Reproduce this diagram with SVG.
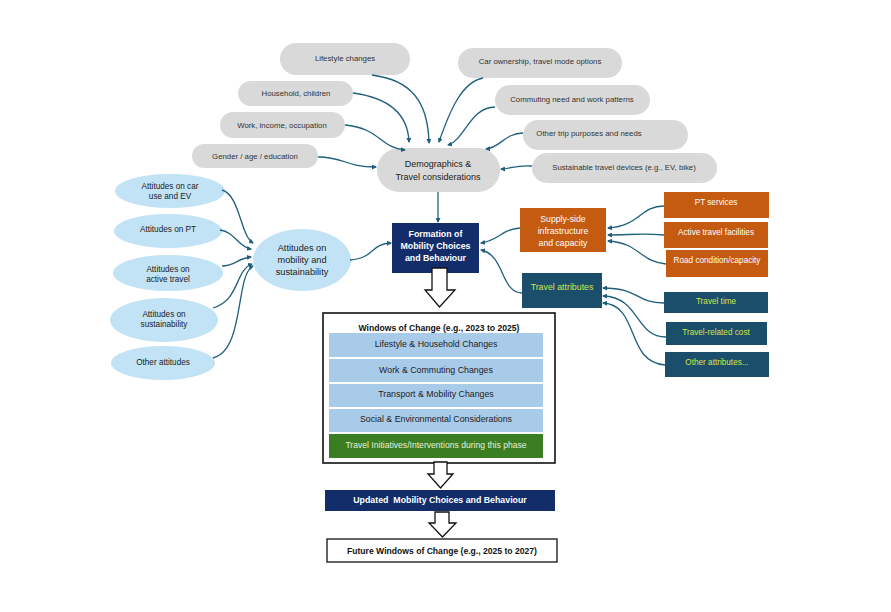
<svg xmlns="http://www.w3.org/2000/svg" width="891" height="612" viewBox="0 0 891 612">
<defs>
<style>
text{font-family:"Liberation Sans",Arial,sans-serif;text-anchor:middle;dominant-baseline:central;white-space:pre}
.pill{fill:#d9d9d9}
.pt{font-size:7.8px;fill:#333}
.ell{fill:#c1e3f5}
.et{font-size:8.2px;fill:#222}
.navy{fill:#122d6a}
.wb{font-size:8.8px;fill:#fff;font-weight:bold}
.org{fill:#c55a11}
.ot{font-size:8.2px;fill:#fff}
.teal{fill:#1b4e6b}
.tt{font-size:8.2px;fill:#d4e64a}
.bar{fill:#a9cbea}
.bt{font-size:8.8px;fill:#222}
.con path{fill:none;stroke:#1e5f7e;stroke-width:1.3;marker-end:url(#ah)}
.big{fill:#fff;stroke:#111;stroke-width:1.3}
</style>
<marker id="ah" viewBox="0 0 10 10" refX="8" refY="5" markerWidth="5" markerHeight="5" orient="auto" markerUnits="userSpaceOnUse">
<path d="M0,0 L10,5 L0,10 z" fill="#1e5f7e"/>
</marker>
</defs>
<rect width="891" height="612" fill="#fff"/>

<g id="lifestyle"><rect class="pill" x="280" y="43" width="130" height="32" rx="16"/><text class="pt" x="345" y="58">Lifestyle changes</text></g>
<g id="household"><rect class="pill" x="238" y="81" width="115" height="25" rx="12.5"/><text class="pt" x="296" y="93.5">Household, children</text></g>
<g id="work"><rect class="pill" x="220" y="112" width="125" height="26" rx="13"/><text class="pt" x="282" y="125">Work, income, occupation</text></g>
<g id="gender"><rect class="pill" x="192" y="144" width="126" height="24" rx="12"/><text class="pt" x="255" y="156">Gender / age / education</text></g>
<g id="car"><rect class="pill" x="458" y="48" width="164" height="30" rx="15"/><text class="pt" x="540" y="61">Car ownership, travel mode options</text></g>
<g id="commuting"><rect class="pill" x="495" y="85" width="155" height="30" rx="15"/><text class="pt" x="572" y="99">Commuting need and work patterns</text></g>
<g id="othertrip"><rect class="pill" x="523" y="120" width="165" height="30" rx="15"/><text class="pt" x="589" y="133">Other trip purposes and needs</text></g>
<g id="sustainable"><rect class="pill" x="532" y="153" width="185" height="30" rx="15"/><text class="pt" x="624" y="167">Sustainable travel devices (e.g., EV, bike)</text></g>
<g id="demographics"><rect class="pill" x="377" y="148" width="123" height="44" rx="22"/><text x="438" y="164" style="font-size:9px;fill:#222">Demographics &amp;</text><text x="438" y="176.5" style="font-size:9px;fill:#222">Travel considerations</text></g>

<g id="att-car"><ellipse class="ell" cx="170" cy="191" rx="55" ry="17"/><text class="et" x="170" y="186">Attitudes on car</text><text class="et" x="170" y="196.5">use and EV</text></g>
<g id="att-pt"><ellipse class="ell" cx="168" cy="231" rx="54" ry="17"/><text class="et" x="168" y="229">Attitudes on PT</text></g>
<g id="att-active"><ellipse class="ell" cx="168" cy="273" rx="55" ry="18"/><text class="et" x="168" y="269">Attitudes on</text><text class="et" x="168" y="279.5">active travel</text></g>
<g id="att-sust"><ellipse class="ell" cx="164" cy="320" rx="54" ry="22"/><text class="et" x="164" y="314">Attitudes on</text><text class="et" x="164" y="324.5">sustainability</text></g>
<g id="att-other"><ellipse class="ell" cx="163" cy="363" rx="52" ry="17"/><text class="et" x="163" y="362">Other attitudes</text></g>
<g id="att-mob"><ellipse class="ell" cx="302" cy="260" rx="49" ry="31"/><text x="302" y="248" style="font-size:9.2px;fill:#222">Attitudes on</text><text x="302" y="260" style="font-size:9.2px;fill:#222">mobility and</text><text x="302" y="272" style="font-size:9.2px;fill:#222">sustainability</text></g>

<g id="formation"><rect class="navy" x="392" y="223" width="87" height="50"/><text class="wb" x="435.5" y="234">Formation of</text><text class="wb" x="435.5" y="246">Mobility Choices</text><text class="wb" x="435.5" y="258">and Behaviour</text></g>
<g id="supply"><rect class="org" x="520" y="208" width="86" height="44"/><text class="ot" x="563" y="219" style="font-size:8.7px">Supply-side</text><text class="ot" x="563" y="231" style="font-size:8.7px">infrastructure</text><text class="ot" x="563" y="243" style="font-size:8.7px">and capacity</text></g>
<g id="travelattr"><rect class="teal" x="522" y="273" width="80" height="35"/><text class="tt" x="562" y="287" style="font-size:8.8px">Travel attributes</text></g>
<g id="ptservices"><rect class="org" x="664" y="192" width="105" height="26"/><text class="ot" x="716" y="202">PT services</text></g>
<g id="activefac"><rect class="org" x="664" y="222" width="104" height="26"/><text class="ot" x="716" y="232">Active travel facilities</text></g>
<g id="road"><rect class="org" x="666" y="250" width="102" height="27"/><text class="ot" x="717" y="260">Road condition/capacity</text></g>
<g id="traveltime"><rect class="teal" x="664" y="292" width="104" height="21"/><text class="tt" x="716" y="301">Travel time</text></g>
<g id="travelcost"><rect class="teal" x="666" y="322" width="101" height="23"/><text class="tt" x="716" y="332">Travel-related cost</text></g>
<g id="otherattr"><rect class="teal" x="665" y="352" width="104" height="25"/><text class="tt" x="717" y="362">Other attributes...</text></g>

<g id="windows">
<rect x="323" y="313" width="232" height="150" fill="#fff" stroke="#111" stroke-width="1.6"/>
<text x="439" y="328" style="font-size:8.6px;font-weight:bold;fill:#111">Windows of Change (e.g., 2023 to 2025)</text>
<rect class="bar" x="329" y="333" width="214" height="24"/><text class="bt" x="436" y="344">Lifestyle &amp; Household Changes</text>
<rect class="bar" x="329" y="359" width="214" height="23"/><text class="bt" x="436" y="370">Work &amp; Commuting Changes</text>
<rect class="bar" x="329" y="384" width="214" height="23"/><text class="bt" x="436" y="394">Transport &amp; Mobility Changes</text>
<rect class="bar" x="329" y="409" width="214" height="23"/><text class="bt" x="436" y="419">Social &amp; Environmental Considerations</text>
<rect x="329" y="434" width="214" height="24" fill="#3a7d22"/><text x="436" y="445" style="font-size:8.6px;fill:#e6f0dc">Travel Initiatives/Interventions during this phase</text>
</g>
<g id="updated"><rect class="navy" x="325" y="490" width="230" height="21"/><text class="wb" x="440" y="500">Updated  Mobility Choices and Behaviour</text></g>
<g id="future"><rect x="327" y="539" width="230" height="23" fill="#fff" stroke="#111" stroke-width="1.3"/><text x="442" y="550.5" style="font-size:8.6px;font-weight:bold;fill:#111">Future Windows of Change (e.g., 2025 to 2027)</text></g>

<g id="block-arrows">
<path class="big" d="M432,268 H447 V290 H455 L439.5,307 L425,290 H432 Z"/>
<path class="big" d="M434,462 H447 V474 H453 L440.5,488 L428,474 H434 Z"/>
<path class="big" d="M435,512 H449 V523 H456 L442.5,537 L429,523 H435 Z"/>
</g>

<g id="connectors" class="con">
<path d="M372,75 C410,80 428,100 429,143"/>
<path d="M353,93 C390,98 408,115 409,142"/>
<path d="M345,125 C380,128 380,148 405,150"/>
<path d="M318,157 C345,157 345,167 376,167"/>
<path d="M483,78 C462,82 450,110 439,142"/>
<path d="M495,107 C470,107 465,140 448,145"/>
<path d="M523,133 C505,133 500,148 486,149"/>
<path d="M532,166 C515,165 510,169 501,169"/>
<path d="M438,192 L438,222"/>
<path d="M222,190 C240,195 240,235 253,243"/>
<path d="M220,230 C235,232 238,247 251,249"/>
<path d="M222,266 C235,266 238,258 251,257"/>
<path d="M213,308 C240,300 235,270 252,264"/>
<path d="M213,358 C245,350 235,275 253,266"/>
<path d="M350,260 C375,258 370,244 391,243"/>
<path d="M520,228 C500,230 500,240 481,243"/>
<path d="M522,293 C500,292 505,255 481,250"/>
<path d="M664,206 C640,206 640,226 608,228"/>
<path d="M664,235 C640,233 630,235 608,235"/>
<path d="M666,264 C640,262 640,243 608,241"/>
<path d="M664,303 C635,303 640,288 603,288"/>
<path d="M666,337 C635,337 640,297 603,296"/>
<path d="M665,365 C625,362 640,305 603,303"/>
</g>
</svg>
